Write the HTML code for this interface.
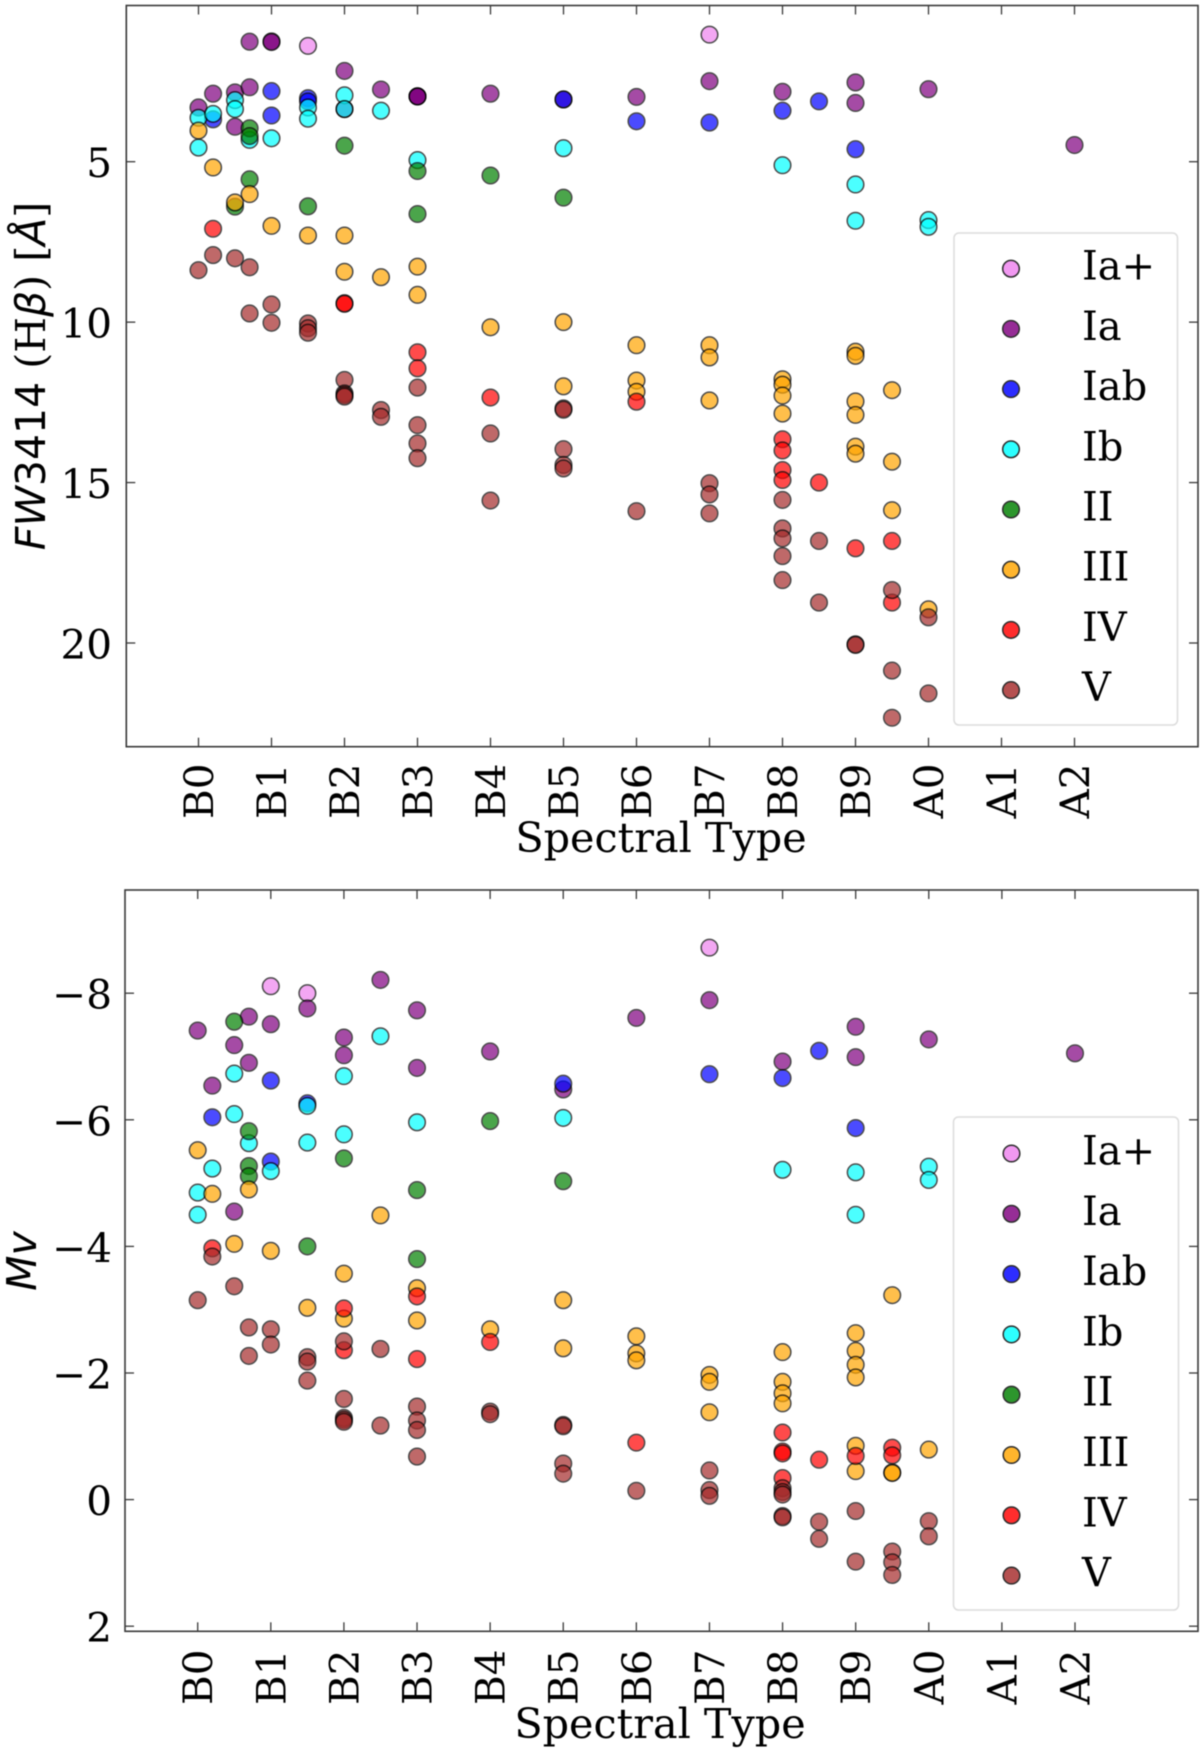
<!DOCTYPE html>
<html lang="en">
<head>
<meta charset="utf-8">
<title>FW3414 and Mv versus Spectral Type</title>
<style>
html,body{margin:0;padding:0;background:#fff;}
svg{display:block;filter:blur(0.4px);}
text{font-family:"DejaVu Serif","Liberation Serif",serif;fill:#000;}
.sans{font-family:"DejaVu Sans","Liberation Sans",sans-serif;}
</style>
</head>
<body>
<svg id="figure" width="1200" height="1753" viewBox="0 0 1200 1753" xmlns="http://www.w3.org/2000/svg">
  <rect x="0" y="0" width="1200" height="1753" fill="#fff"/>
  <g id="top-panel"></g>
  <g id="bottom-panel"></g>
  <text x="661" y="852" font-size="41.3" text-anchor="middle">Spectral Type</text>
  <text x="660" y="1738" font-size="41.3" text-anchor="middle">Spectral Type</text>
  <text transform="translate(45,376) rotate(-90)" font-size="41" text-anchor="middle"><tspan class="sans" font-style="italic">FW</tspan><tspan class="sans">3414</tspan> (H<tspan class="sans" font-style="italic">β</tspan>) [<tspan class="sans" font-style="italic">Å</tspan>]</text>
  <text transform="translate(36,1261) rotate(-90)" font-size="41" text-anchor="middle"><tspan class="sans" font-style="italic">Mv</tspan></text>
</svg>
<script>
const spectralLabels = ["B0","B1","B2","B3","B4","B5","B6","B7","B8","B9","A0","A1","A2"];
const seriesNames = ["Ia+","Ia","Iab","Ib","II","III","IV","V"];
const seriesColors = ["#ee82ee","#800080","#0000ff","#00ffff","#008000","#ffa500","#ff0000","#a52a2a"];
const fwTicks = [5,10,15,20];
const mvTicks = [-8,-6,-4,-2,0,2];

/* Each pair is [spectral subtype index, measured value] */
const fwIaPlus = [[1.5,1.39],[7,1.04]];
const fwIa = [[0.7,1.26],[1,1.25],[1,1.27],[2,2.17],[0.2,2.88],[0.5,2.84],[0.7,2.68],[0,3.31],[0.5,3.91],[2,3.36],[2.5,2.75],[3,2.96],[3,2.96],[3,2.97],[4,2.88],[5,3.06],[6,2.98],[7,2.49],[8,2.82],[9,2.53],[9,3.17],[10,2.74],[12,4.48]];
const fwIab = [[0.2,3.68],[1,2.80],[1,3.56],[1.5,3.02],[1.5,3.12],[5,3.06],[6,3.74],[7,3.78],[8,3.41],[8.5,3.12],[9,4.61]];
const fwIb = [[0,3.63],[0,4.56],[0.2,3.51],[0.5,3.08],[0.5,3.36],[0.7,4.32],[1,4.27],[1.5,3.31],[1.5,3.66],[2,2.93],[2,3.36],[2.5,3.41],[3,4.95],[5,4.58],[8,5.11],[9,5.71],[9,6.84],[10,6.82],[10,7.03]];
const fwII = [[0.7,3.96],[0.7,4.2],[0.5,6.4],[0.7,5.55],[1.5,6.39],[2,4.5],[3,5.29],[3,6.63],[4,5.43],[5,6.12]];
const fwIII = [[0,4.03],[0.2,5.18],[0.5,6.27],[0.7,6.01],[1,7.0],[1.5,7.3],[2,7.3],[2,8.43],[2.5,8.6],[3,8.27],[3,9.15],[4,10.16],[5,10.0],[5,12.0],[6,10.72],[6,11.82],[6,12.17],[7,10.72],[7,11.1],[7,12.44],[8,11.78],[8,11.95],[8,12.29],[8,12.85],[9,10.92],[9,11.05],[9,12.47],[9,12.89],[9,13.88],[9,14.1],[9.5,12.12],[9.5,14.35],[9.5,15.86],[10,18.95]];
const fwIV = [[0.2,7.09],[2,9.41],[2,9.43],[3,10.94],[3,11.44],[4,12.35],[6,12.48],[8,13.65],[8,14.0],[8,14.61],[8,14.92],[8.5,15.0],[9,17.05],[9.5,16.82],[9.5,18.74]];
const fwV = [[0,8.38],[0.2,7.91],[0.5,8.01],[0.7,8.29],[0.7,9.73],[1,9.45],[1,10.02],[1.5,10.04],[1.5,10.19],[1.5,10.33],[2,11.8],[2,12.22],[2,12.27],[2,12.32],[2.5,12.74],[2.5,12.95],[3,12.04],[3,13.21],[3,13.78],[3,14.24],[4,13.47],[4,15.56],[5,12.69],[5,12.73],[5,13.96],[5,14.45],[5,14.56],[6,15.89],[7,15.02],[7,15.37],[7,15.96],[8,15.54],[8,16.43],[8,16.74],[8,17.29],[8,18.04],[8.5,16.82],[8.5,18.74],[9,20.04],[9,20.06],[9.5,18.35],[9.5,20.86],[9.5,22.33],[10,19.2],[10,21.57]];

const mvIaPlus = [[1,-8.11],[1.5,-8.0],[7,-8.72]];
const mvIa = [[0,-7.41],[0.2,-6.54],[0.5,-7.18],[0.5,-4.55],[0.7,-7.63],[0.7,-6.90],[1,-7.51],[1.5,-7.76],[2,-7.30],[2,-7.02],[2.5,-8.21],[3,-7.73],[3,-6.82],[4,-7.08],[5,-6.48],[6,-7.61],[7,-7.89],[8,-6.92],[9,-7.47],[9,-6.99],[10,-7.27],[12,-7.05]];
const mvIab = [[0.2,-6.04],[1,-6.62],[1,-5.34],[1.5,-6.26],[5,-6.57],[7,-6.72],[8,-6.66],[8.5,-7.09],[9,-5.87]];
const mvIb = [[0,-4.85],[0,-4.50],[0.2,-5.23],[0.5,-6.73],[0.5,-6.09],[0.7,-5.63],[1,-5.19],[1.5,-6.22],[1.5,-5.64],[2,-6.69],[2,-5.77],[2.5,-7.32],[3,-5.96],[5,-6.03],[8,-5.21],[9,-5.17],[9,-4.5],[10,-5.26],[10,-5.05]];
const mvII = [[0.5,-7.55],[0.7,-5.82],[0.7,-5.27],[0.7,-5.11],[1.5,-4.0],[2,-5.39],[3,-4.89],[3,-3.80],[4,-5.98],[5,-5.03]];
const mvIII = [[0,-5.52],[0.2,-4.83],[0.5,-4.04],[0.7,-4.90],[1,-3.93],[1.5,-3.03],[2,-3.57],[2,-2.86],[2.5,-4.49],[3,-3.34],[3,-2.83],[4,-2.69],[5,-3.15],[5,-2.39],[6,-2.58],[6,-2.31],[6,-2.20],[7,-1.97],[7,-1.86],[7,-1.38],[8,-2.33],[8,-1.86],[8,-1.68],[8,-1.52],[9,-2.63],[9,-2.35],[9,-2.13],[9,-1.93],[9,-0.85],[9,-0.45],[9.5,-3.23],[9.5,-0.43],[9.5,-0.42],[10,-0.79]];
const mvIV = [[0.2,-3.97],[2,-3.02],[2,-2.36],[3,-3.21],[3,-2.22],[4,-2.49],[6,-0.90],[8,-1.06],[8,-0.76],[8,-0.73],[8,-0.34],[8.5,-0.63],[9,-0.69],[9.5,-0.82],[9.5,-0.70]];
const mvV = [[0.2,-3.84],[0,-3.15],[0.5,-3.37],[0.7,-2.72],[0.7,-2.27],[1,-2.69],[1,-2.45],[1.5,-2.25],[1.5,-2.18],[1.5,-1.88],[2,-2.50],[2,-1.59],[2,-1.29],[2,-1.26],[2,-1.23],[2.5,-2.38],[2.5,-1.17],[3,-1.47],[3,-1.25],[3,-1.10],[3,-0.68],[4,-1.39],[4,-1.35],[5,-1.18],[5,-1.16],[5,-0.57],[5,-0.41],[6,-0.14],[7,-0.46],[7,-0.15],[7,-0.06],[8,-0.18],[8,-0.12],[8,-0.08],[8,0.26],[8,0.28],[8.5,0.35],[8.5,0.62],[9,0.18],[9,0.98],[9.5,0.82],[9.5,0.99],[9.5,1.19],[10,0.34],[10,0.58]];

const fwSeries = [fwIaPlus,fwIa,fwIab,fwIb,fwII,fwIII,fwIV,fwV];
const mvSeries = [mvIaPlus,mvIa,mvIab,mvIb,mvII,mvIII,mvIV,mvV];

const NS = "http://www.w3.org/2000/svg";

function make(tag, attrs, parent) {
  const el = document.createElementNS(NS, tag);
  for (const k in attrs) el.setAttribute(k, attrs[k]);
  parent.appendChild(el);
  return el;
}

function linearAxis(d0, d1, p0, p1) {
  return function (v) { return p0 + (v - d0) * (p1 - p0) / (d1 - d0); };
}

function drawPanel(root, cfg) {
  const x = cfg.x, y = cfg.y, f = cfg.frame;
  const axisColor = "#3a3a3a";

  /* points */
  cfg.series.forEach(function (points, s) {
    const group = make("g", {}, root);
    
    
    points.forEach(function (p) {
      const c = make("circle", {cx: x(p[0]), cy: y(p[1]), r: 8.3, fill: seriesColors[s], stroke: "#000", "stroke-width": 1.5, opacity: 0.7}, group);
      
      
    });
  });

  /* frame */
  const frame = make("rect", {x: f.left, y: f.top, width: f.right - f.left, height: f.bottom - f.top, fill: "none", stroke: axisColor, "stroke-width": 1.6}, root);
  
  

  /* x ticks and labels */
  spectralLabels.forEach(function (lab, i) {
    const px = x(i);
    const t1 = make("line", {x1: px, x2: px, y1: f.bottom, y2: f.bottom - 9, stroke: axisColor, "stroke-width": 1.3}, root);
    
    
    const t2 = make("line", {x1: px, x2: px, y1: f.top, y2: f.top + 9, stroke: axisColor, "stroke-width": 1.3}, root);
    
    
    const tx = make("text", {transform: "translate(" + (px + 14.5) + "," + cfg.xLabelTop + ") rotate(-90)", "font-size": 40.5, "text-anchor": "end"}, root);
    
    
    tx.textContent = lab;
  });

  /* y ticks and labels */
  cfg.yTicks.forEach(function (v) {
    const py = y(v);
    const t1 = make("line", {x1: f.left, x2: f.left + 9, y1: py, y2: py, stroke: axisColor, "stroke-width": 1.3}, root);
    
    
    const t2 = make("line", {x1: f.right, x2: f.right - 9, y1: py, y2: py, stroke: axisColor, "stroke-width": 1.3}, root);
    
    
    const tx = make("text", {x: 112, y: py + 15.5, "font-size": 40.5, "text-anchor": "end"}, root);
    
    
    tx.textContent = String(v).replace("-", "\u2212");
  });

  /* legend */
  const l = cfg.legend;
  const box = make("rect", {x: l.left, y: l.top, width: l.right - l.left, height: l.bottom - l.top, rx: 5, ry: 5, fill: "#fff", "fill-opacity": 0.8, stroke: "#dcdcdc", "stroke-width": 1.5}, root);
  
  
  seriesNames.forEach(function (name, i) {
    const my = l.first + i * l.step;
    const m = make("circle", {cx: l.markerX, cy: my, r: 8.3, fill: seriesColors[i], stroke: "#000", "stroke-width": 1.5, opacity: 0.82}, root);
    
    
    const t = make("text", {x: 1082, y: my + 11, "font-size": 40}, root);
    
    
    t.textContent = name;
  });
}

drawPanel(document.getElementById("top-panel"), {
  series: fwSeries,
  yTicks: fwTicks,
  x: linearAxis(0, 12, 198.5, 1074.5),
  y: linearAxis(5, 20, 161.7, 643),
  frame: {left: 126.3, right: 1198, top: 5.5, bottom: 746.7},
  xLabelTop: 763.5,
  legend: {left: 954, right: 1177.5, top: 233, bottom: 725, markerX: 1011, first: 268.7, step: 60.2}
});

drawPanel(document.getElementById("bottom-panel"), {
  series: mvSeries,
  yTicks: mvTicks,
  x: linearAxis(0, 12, 197.7, 1075),
  y: linearAxis(0, 2, 1499.6, 1626.2),
  frame: {left: 125, right: 1198, top: 890, bottom: 1631.3},
  xLabelTop: 1649.5,
  legend: {left: 953.5, right: 1178.5, top: 1117, bottom: 1610, markerX: 1011.5, first: 1153.5, step: 60.3}
});
</script>
</body>
</html>
